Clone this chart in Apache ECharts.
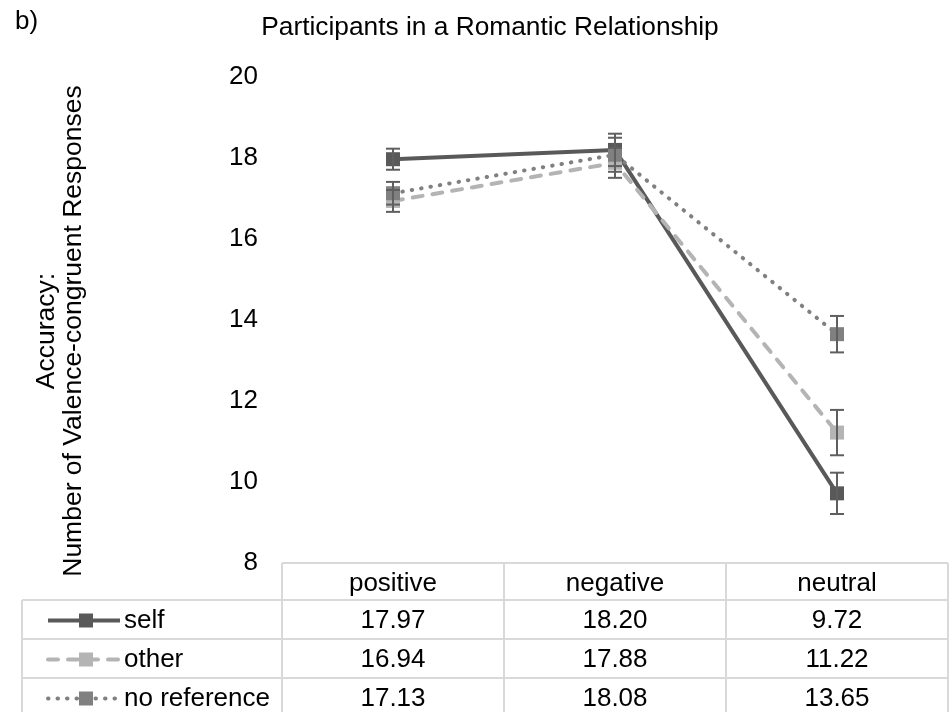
<!DOCTYPE html>
<html>
<head>
<meta charset="utf-8">
<script src="https://cdn.jsdelivr.net/npm/echarts@6/dist/echarts.min.js"></script>
<style>
  html, body { margin: 0; padding: 0; background: #fff; }
  #chart { width: 951px; height: 712px; }
</style>
</head>
<body>
<div id="chart"></div>
<script>
// Categories and series values
const categories = ['positive', 'negative', 'neutral'];
const seriesNames = ['self', 'other', 'no reference'];
const selfValues = [17.97, 18.20, 9.72];
const otherValues = [16.94, 17.88, 11.22];
const noRefValues = [17.13, 18.08, 13.65];
// Error bar half-widths (±)
const selfErrors = [0.26, 0.40, 0.51];
const otherErrors = [0.27, 0.37, 0.56];
const noRefErrors = [0.28, 0.42, 0.45];
// Value axis ticks
const yMin = 8, yMax = 20, yInterval = 2;

const FONT = '"Liberation Sans", Arial, sans-serif';
const colors = ['#595959', '#b4b4b4', '#808080'];
const lineDashes = ['solid', [10, 10], [0.5, 9]];
const allValues = [selfValues, otherValues, noRefValues];
const allErrors = [selfErrors, otherErrors, noRefErrors];

const grid = { left: 282, right: 3, top: 77, bottom: 149 };
const W = 951, H = 712;

const chart = echarts.init(document.getElementById('chart'), null, { renderer: 'canvas' });

function errorSeries(k) {
  return {
    type: 'custom',
    name: seriesNames[k] + ' error',
    z: 5,
    data: allValues[k].map((v, i) => [i, v, allErrors[k][i]]),
    renderItem: function (params, api) {
      const i = api.value(0), v = api.value(1), e = api.value(2);
      const top = api.coord([i, v + e]);
      const bot = api.coord([i, v - e]);
      const cap = 7;
      const style = { stroke: '#5f5f5f', lineWidth: 2 };
      return {
        type: 'group',
        children: [
          { type: 'line', shape: { x1: top[0], y1: top[1], x2: bot[0], y2: bot[1] }, style },
          { type: 'line', shape: { x1: top[0] - cap, y1: top[1], x2: top[0] + cap, y2: top[1] }, style },
          { type: 'line', shape: { x1: bot[0] - cap, y1: bot[1], x2: bot[0] + cap, y2: bot[1] }, style }
        ]
      };
    }
  };
}

function lineSeries(k) {
  return {
    type: 'line',
    name: seriesNames[k],
    data: allValues[k],
    z: 3,
    symbol: 'rect',
    symbolSize: 14,
    itemStyle: { color: colors[k] },
    lineStyle: { color: colors[k], width: 4, type: lineDashes[k], cap: k === 0 ? 'butt' : 'round' },
    emphasis: { disabled: true },
    animation: false
  };
}

// Data table below the plot, built from the same arrays
function tableGraphics() {
  const g = [];
  const lineColor = '#d9d9d9';
  const lw = 2;
  const x0 = grid.left, x1 = W - grid.right;
  const colW = (x1 - x0) / categories.length;
  const top = H - grid.bottom;
  const headerH = 37, rowH = 39;
  const legendLeft = 22;
  const rowTops = [top + headerH, top + headerH + rowH, top + headerH + 2 * rowH, top + headerH + 3 * rowH];
  const ls = { stroke: lineColor, lineWidth: lw };
  // header box
  g.push({ type: 'line', shape: { x1: x0, y1: top, x2: x1, y2: top }, style: ls });
  // row lines
  rowTops.forEach(y => g.push({ type: 'line', shape: { x1: legendLeft, y1: y, x2: x1, y2: y }, style: ls }));
  // vertical lines
  for (let c = 0; c <= categories.length; c++) {
    const x = x0 + c * colW;
    g.push({ type: 'line', shape: { x1: x, y1: top, x2: x, y2: H + 5 }, style: ls });
  }
  g.push({ type: 'line', shape: { x1: legendLeft, y1: rowTops[0], x2: legendLeft, y2: H + 5 }, style: ls });

  const cellText = (x, y, t) => ({
    type: 'text', x, y,
    style: { text: t, fill: '#000', font: '26px ' + FONT, align: 'center', verticalAlign: 'middle' }
  });
  categories.forEach((c, i) => g.push(cellText(x0 + (i + 0.5) * colW, top + headerH / 2 + 2, c)));
  allValues.forEach((vals, k) => {
    const cy = rowTops[k] + rowH / 2 + 1;
    vals.forEach((v, i) => g.push(cellText(x0 + (i + 0.5) * colW, cy, v.toFixed(2))));
    // legend key: line sample, marker and name
    const sx1 = 48, sx2 = 120, mx = 86;
    g.push({
      type: 'line', shape: { x1: sx1, y1: cy, x2: sx2, y2: cy },
      style: { stroke: colors[k], lineWidth: 4, lineDash: k === 0 ? null : lineDashes[k], lineCap: k === 0 ? 'butt' : 'round' }
    });
    g.push({ type: 'rect', shape: { x: mx - 7, y: cy - 7, width: 14, height: 14 }, style: { fill: colors[k] } });
    g.push({
      type: 'text', x: 124, y: cy,
      style: { text: seriesNames[k], fill: '#000', font: '26px ' + FONT, align: 'left', verticalAlign: 'middle' }
    });
  });
  return g;
}

const option = {
  animation: false,
  backgroundColor: '#fff',
  grid: grid,
  xAxis: {
    type: 'category',
    data: categories,
    boundaryGap: true,
    axisLine: { show: false },
    axisTick: { show: false },
    axisLabel: { show: false },
    splitLine: { show: false }
  },
  yAxis: {
    type: 'value',
    min: yMin, max: yMax, interval: yInterval,
    axisLine: { show: false },
    axisTick: { show: false },
    splitLine: { show: false },
    axisLabel: { color: '#000', fontFamily: FONT, fontSize: 26, margin: 24 }
  },
  graphic: [
    {
      type: 'text', left: 15, top: 9,
      style: { text: 'b)', fill: '#000', font: '26px ' + FONT }
    },
    {
      type: 'text', x: 490, y: 28,
      style: { text: 'Participants in a Romantic Relationship', fill: '#000', font: '26.3px ' + FONT, align: 'center', verticalAlign: 'middle' }
    },
    {
      type: 'text', x: 60, y: 331, rotation: Math.PI / 2,
      style: {
        text: 'Accuracy:\nNumber of Valence-congruent Responses',
        fill: '#000', font: '26.5px ' + FONT, align: 'center', verticalAlign: 'middle', lineHeight: 27
      }
    }
  ].concat(tableGraphics()),
  series: [lineSeries(0), lineSeries(1), lineSeries(2), errorSeries(0), errorSeries(1), errorSeries(2)]
};

chart.setOption(option);
</script>
</body>
</html>
